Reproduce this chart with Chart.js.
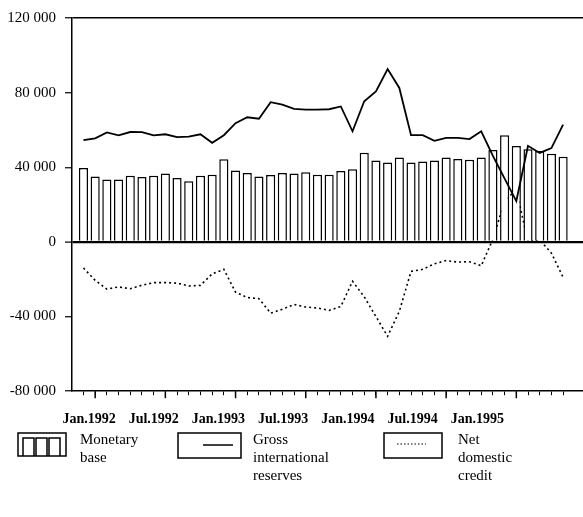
<!DOCTYPE html>
<html>
<head>
<meta charset="utf-8">
<script src="https://cdn.jsdelivr.net/npm/chart.js@4.4.1/dist/chart.umd.min.js"></script>
<style>
  html, body { margin: 0; padding: 0; background: #fff; }
</style>
</head>
<body>
<canvas id="chart" width="583" height="517"></canvas>
<script>
// monthly, Dec 1991 .. May 1995
const months = [
  'Dec.1991',
  'Jan.1992', 'Feb.1992', 'Mar.1992', 'Apr.1992', 'May.1992', 'Jun.1992',
  'Jul.1992', 'Aug.1992', 'Sep.1992', 'Oct.1992', 'Nov.1992', 'Dec.1992',
  'Jan.1993', 'Feb.1993', 'Mar.1993', 'Apr.1993', 'May.1993', 'Jun.1993',
  'Jul.1993', 'Aug.1993', 'Sep.1993', 'Oct.1993', 'Nov.1993', 'Dec.1993',
  'Jan.1994', 'Feb.1994', 'Mar.1994', 'Apr.1994', 'May.1994', 'Jun.1994',
  'Jul.1994', 'Aug.1994', 'Sep.1994', 'Oct.1994', 'Nov.1994', 'Dec.1994',
  'Jan.1995', 'Feb.1995', 'Mar.1995', 'Apr.1995', 'May.1995'
];

const monetaryBase = [39600, 35100, 33400, 33400, 35500, 34800, 35500, 36600, 34300, 32500, 35500, 36000,
  44300, 38300, 36900, 35100, 35800, 36900, 36600, 37400, 36000, 36000, 38000, 39000,
  47800, 43600, 42500, 45200, 42500, 43100, 43600, 45200, 44500, 44000, 45200, 49300,
  57200, 51400, 49600, 48700, 47200, 45700];

const grossReserves = [54600, 55500, 58700, 57100, 58900, 58800, 57100, 57700, 56200, 56400, 57700, 53100,
  57200, 63600, 66800, 66000, 74900, 73600, 71300, 70900, 70900, 71100, 72600, 59300,
  75400, 80700, 92600, 82500, 57200, 57200, 54200, 55800, 55800, 55100, 59300, 46100,
  33900, 21900, 51500, 47700, 50300, 62900];

const netDomesticCredit = [-14000, -20600, -25300, -24100, -25100, -23200, -21800, -21800, -22100, -23600, -23300, -17100,
  -14700, -26900, -29800, -30400, -38200, -36100, -33500, -34900, -35400, -36700, -34600, -21100,
  -29400, -40000, -50600, -37200, -15800, -14700, -11700, -10000, -10800, -10600, -12800, 1500,
  22000, 28000, 0, 1000, -6000, -19000];

const tickLabels = ['Jan.1992', 'Jul.1992', 'Jan.1993', 'Jul.1993', 'Jan.1994', 'Jul.1994', 'Jan.1995'];

const serif = "'Liberation Serif', 'DejaVu Serif', serif";

function fmt(v) {
  if (v === 0) return '0';
  return (v < 0 ? '-' : '') + Math.abs(v / 1000) + ' 000';
}

const pts = arr => arr.map((v, i) => ({ x: i, y: v }));

// longer tick marks for Jan / Jul
const majorTicks = {
  id: 'majorTicks',
  afterDraw(chart) {
    const ctx = chart.ctx, sx = chart.scales.x, bottom = chart.chartArea.bottom;
    ctx.save();
    ctx.strokeStyle = '#000';
    ctx.lineWidth = 1.5;
    months.forEach((m, i) => {
      if (m.startsWith('Jan') || m.startsWith('Jul')) {
        const px = sx.getPixelForValue(i);
        ctx.beginPath();
        ctx.moveTo(px, bottom);
        ctx.lineTo(px, bottom + 7);
        ctx.stroke();
      }
    });
    ctx.restore();
  }
};

// legend boxes underneath, like the printed one
const boxLegend = {
  id: 'boxLegend',
  afterDraw(chart) {
    const ctx = chart.ctx;
    ctx.save();
    ctx.strokeStyle = '#000';
    ctx.fillStyle = '#000';
    ctx.lineWidth = 1.5;
    ctx.font = '15px ' + serif;
    ctx.textBaseline = 'alphabetic';

    // monetary base
    ctx.strokeRect(18, 433, 48, 23);
    [23, 36, 49].forEach(x => {
      ctx.beginPath();
      ctx.moveTo(x, 456);
      ctx.lineTo(x, 438);
      ctx.lineTo(x + 11, 438);
      ctx.lineTo(x + 11, 456);
      ctx.stroke();
    });
    ['Monetary', 'base'].forEach((t, i) => ctx.fillText(t, 80, 444 + i * 18));

    // gross international reserves
    ctx.strokeRect(178, 433, 63, 25);
    ctx.beginPath();
    ctx.moveTo(203, 445);
    ctx.lineTo(233, 445);
    ctx.stroke();
    ['Gross', 'international', 'reserves'].forEach((t, i) => ctx.fillText(t, 253, 444 + i * 18));

    // net domestic credit
    ctx.strokeRect(384, 433, 58, 25);
    ctx.setLineDash([1.5, 2]);
    ctx.lineWidth = 1;
    ctx.beginPath();
    ctx.moveTo(397, 444);
    ctx.lineTo(426, 444);
    ctx.stroke();
    ctx.setLineDash([]);
    ['Net', 'domestic', 'credit'].forEach((t, i) => ctx.fillText(t, 458, 444 + i * 18));
    ctx.restore();
  }
};

new Chart(document.getElementById('chart'), {
  data: {
    datasets: [
      {
        type: 'line',
        label: 'Gross international reserves',
        data: pts(grossReserves),
        xAxisID: 'x',
        borderColor: '#000',
        borderWidth: 1.8,
        pointRadius: 0,
        tension: 0,
        order: 1
      },
      {
        type: 'bar',
        label: 'Monetary base',
        data: pts(monetaryBase),
        xAxisID: 'x',
        backgroundColor: '#fff',
        borderColor: '#000',
        borderWidth: 1.5,
        categoryPercentage: 1,
        barPercentage: 0.78,
        order: 2
      },
      {
        type: 'line',
        label: 'Net domestic credit',
        data: pts(netDomesticCredit),
        xAxisID: 'x',
        borderColor: '#000',
        borderWidth: 1.6,
        borderDash: [2, 3],
        pointRadius: 0,
        tension: 0,
        order: 3
      }
    ]
  },
  options: {
    responsive: false,
    animation: false,
    layout: { padding: { top: 17, right: 0, bottom: 73, left: 0 } },
    plugins: {
      legend: { display: false },
      tooltip: { enabled: false }
    },
    scales: {
      x: {
        type: 'linear',
        position: 'bottom',
        offset: false,
        min: -0.98,
        max: 42.7,
        afterBuildTicks: s => { s.ticks = months.map((m, i) => ({ value: i })); },
        ticks: { display: false },
        grid: { offset: false, drawOnChartArea: false, tickLength: 4, tickColor: '#000', tickWidth: 1 },
        border: { color: '#000', width: 1.5 }
      },
      xl: {
        type: 'linear',
        position: 'bottom',
        min: -1.58,
        max: 45.8,
        afterBuildTicks: s => { s.ticks = tickLabels.map((t, i) => ({ value: i * 6 })); },
        ticks: {
          callback: (v, i) => tickLabels[i],
          color: '#000',
          font: { family: serif, size: 14, weight: 'bold' },
          padding: 16,
          maxRotation: 0,
          autoSkip: false
        },
        grid: { display: false, drawTicks: false },
        border: { display: false }
      },
      y: {
        min: -80000,
        max: 120000,
        afterFit: s => { s.width = 72; },
        ticks: {
          stepSize: 40000,
          color: '#000',
          font: { family: serif, size: 15 },
          padding: 9,
          callback: v => fmt(v)
        },
        grid: {
          color: c => (c.tick && (c.tick.value === 0 || c.tick.value === 120000)) ? '#000' : 'rgba(0,0,0,0)',
          lineWidth: c => (c.tick && c.tick.value === 0) ? 2.2 : 1.5,
          tickColor: '#000',
          tickLength: 7,
          tickWidth: 1.2
        },
        border: { color: '#000', width: 1.5 }
      }
    }
  },
  plugins: [majorTicks, boxLegend]
});
</script>
</body>
</html>
